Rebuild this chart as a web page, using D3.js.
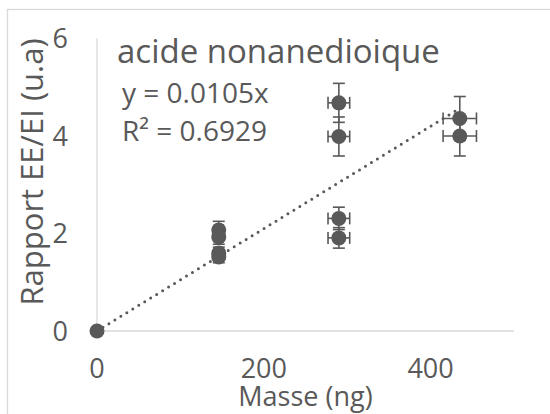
<!DOCTYPE html>
<html>
<head>
<meta charset="utf-8">
<script src="https://cdn.jsdelivr.net/npm/d3@7"></script>
<style>
  body { margin: 0; background: #fff; }
  text { font-family: "Open Sans", sans-serif; fill: #595959; }
</style>
</head>
<body>
<div id="chart"></div>
<script>
// data
const masse = [0, 146, 146, 146, 146, 290, 290, 290, 290, 435, 435]
const rapport = [0, 2.07, 1.93, 1.60, 1.52, 4.68, 3.99, 2.31, 1.91, 4.36, 4.00]
const errY = [0, 0.18, 0.15, 0.12, 0.12, 0.40, 0.40, 0.23, 0.21, 0.45, 0.41]
const errX = [0, 5, 5, 5, 5, 13, 13, 13, 13, 20, 20]
const xTicks = [0, 200, 400]
const yTicks = [0, 2, 4, 6]
const pente = 0.0105
const titre = "acide nonanedioique"
const equation = "y = 0.0105x"
const r2 = "R² = 0.6929"

const width = 550, height = 414
const grey = "#595959", light = "#d9d9d9"

const svg = d3.select("#chart").append("svg")
    .attr("width", width)
    .attr("height", height)

// chart frame
svg.append("rect")
    .attr("x", 7.5).attr("y", 9.5)
    .attr("width", 600).attr("height", 500)
    .attr("fill", "none")
    .attr("stroke", light)
    .attr("stroke-width", 1.3)

const x = d3.scaleLinear().domain([0, 500]).range([97, 514])
const y = d3.scaleLinear().domain([0, 6]).range([331, 38.5])

// axis lines
svg.append("line")
    .attr("x1", x(0)).attr("x2", x(0))
    .attr("y1", y(0)).attr("y2", y(6))
    .attr("stroke", light).attr("stroke-width", 1.3)
svg.append("line")
    .attr("x1", x(0)).attr("x2", x(500))
    .attr("y1", y(0)).attr("y2", y(0))
    .attr("stroke", light).attr("stroke-width", 1.3)

// tick labels
svg.selectAll(".ytick").data(yTicks).enter().append("text")
    .attr("class", "ytick")
    .attr("x", 68)
    .attr("y", d => y(d))
    .attr("dy", "0.36em")
    .attr("text-anchor", "end")
    .style("font-size", "27px")
    .text(d => d)
svg.selectAll(".xtick").data(xTicks).enter().append("text")
    .attr("class", "xtick")
    .attr("x", d => x(d))
    .attr("y", 378)
    .attr("text-anchor", "middle")
    .style("font-size", "27px")
    .text(d => d)

// axis titles
svg.append("text")
    .attr("x", (x(0) + x(500)) / 2)
    .attr("y", 406)
    .attr("text-anchor", "middle")
    .style("font-size", "27px")
    .text("Masse (ng)")
svg.append("text")
    .attr("transform", "translate(43,172) rotate(-90)")
    .attr("text-anchor", "middle")
    .style("font-size", "31px")
    .text("Rapport EE/EI (u.a)")

// title + equation
svg.append("text")
    .attr("x", 117).attr("y", 63)
    .style("font-size", "33px")
    .text(titre)
svg.append("text")
    .attr("x", 122).attr("y", 103)
    .style("font-size", "28px")
    .text(equation)
svg.append("text")
    .attr("x", 122).attr("y", 141)
    .style("font-size", "28px")
    .text(r2)

// linear trendline (dotted)
const xMax = d3.max(masse)
svg.append("line")
    .attr("x1", x(0)).attr("y1", y(0))
    .attr("x2", x(xMax)).attr("y2", y(pente * xMax))
    .attr("stroke", grey)
    .attr("stroke-width", 3)
    .attr("stroke-linecap", "round")
    .attr("stroke-dasharray", "0 7")

const pts = masse.map((m, i) => ({m: m, r: rapport[i], ex: errX[i], ey: errY[i]}))
const cap = 6

// error bars
const bars = svg.append("g")
    .attr("stroke", grey)
    .attr("stroke-width", 1.6)
pts.filter(d => d.ey > 0).forEach(d => {
    bars.append("line")
        .attr("x1", x(d.m)).attr("x2", x(d.m))
        .attr("y1", y(d.r - d.ey)).attr("y2", y(d.r + d.ey))
    ;[d.r - d.ey, d.r + d.ey].forEach(v => {
        bars.append("line")
            .attr("x1", x(d.m) - cap).attr("x2", x(d.m) + cap)
            .attr("y1", y(v)).attr("y2", y(v))
    })
    bars.append("line")
        .attr("x1", x(d.m - d.ex)).attr("x2", x(d.m + d.ex))
        .attr("y1", y(d.r)).attr("y2", y(d.r))
    ;[d.m - d.ex, d.m + d.ex].forEach(v => {
        bars.append("line")
            .attr("x1", x(v)).attr("x2", x(v))
            .attr("y1", y(d.r) - cap).attr("y2", y(d.r) + cap)
    })
})

// points
svg.selectAll(".pt").data(pts).enter().append("circle")
    .attr("class", "pt")
    .attr("cx", d => x(d.m))
    .attr("cy", d => y(d.r))
    .attr("r", 7.5)
    .attr("fill", grey)
</script>
</body>
</html>
